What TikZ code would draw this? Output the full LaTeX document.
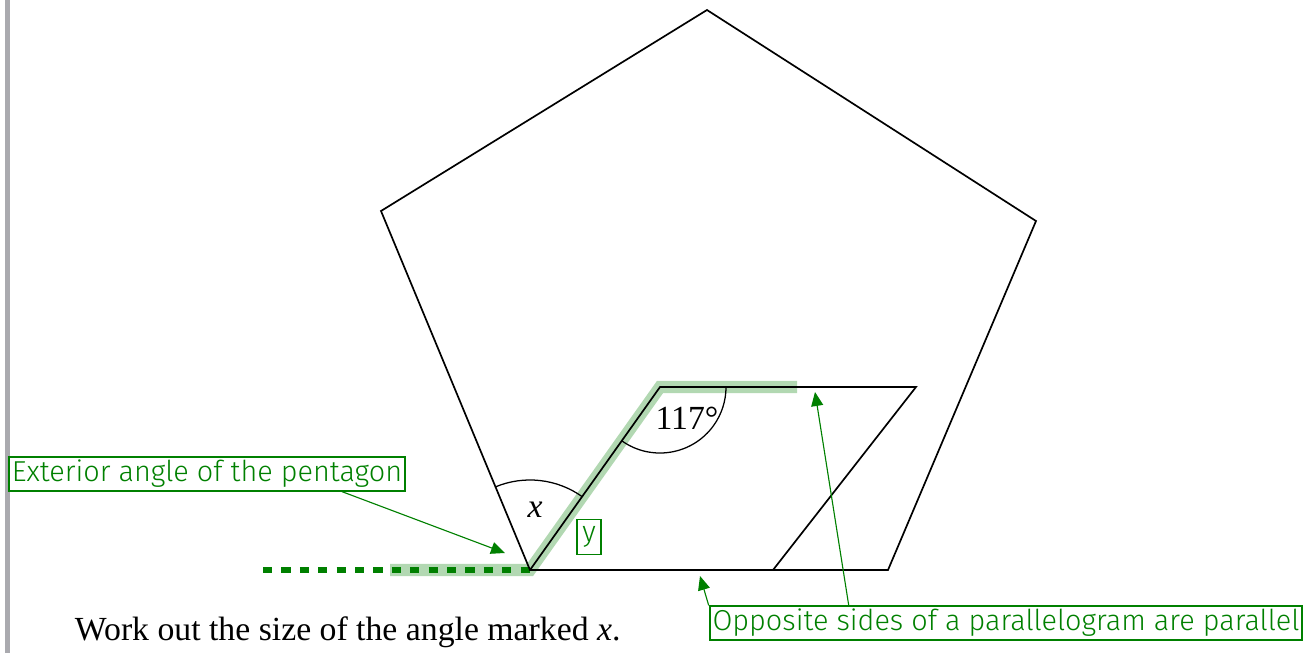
\documentclass[tikz,border=0pt]{standalone}
\usepackage{fontspec}
\setmainfont{Liberation Serif}
\newfontfamily\annfont{Fira Sans Light}
\usepackage{xcolor}
\usetikzlibrary{arrows.meta,angles,positioning}
\definecolor{anngreen}{RGB}{0,128,0}
\definecolor{hlgreen}{RGB}{178,216,178}
\definecolor{bargray}{RGB}{170,170,175}
\tikzset{
  figline/.style={
    line width=1.2pt,
    line join=miter
  },
  hilite/.style={
    line width=0.3cm,
    color=hlgreen,
    line join=miter
  },
  extline/.style={
    line width=0.13cm,
    color=anngreen,
    dash pattern=on 0.23cm off 0.23cm
  },
  annbox/.style={
    draw=anngreen,
    line width=1.4pt,
    text=anngreen,
    inner sep=2pt,
    font=\annfont\fontsize{20.5}{24}\selectfont
  },
  annarrow/.style={
    color=anngreen,
    line width=0.8pt,
    -{Triangle[length=0.35cm,width=0.3cm]}
  },
  anglab/.style={
    font=\fontsize{24}{28}\selectfont
  }
}
\begin{document}
\begin{tikzpicture}[x=0.025cm,y=0.025cm]
  \useasboundingbox (0,0) rectangle (1304,653);
  \fill[bargray] (5,0) rectangle (10,653);

  % pentagon
  \coordinate (P1) at (707,643);
  \coordinate (P2) at (381,442);
  \coordinate (P3) at (1036,432);
  \coordinate (P4) at (888,83);
  \coordinate (A) at (530,83);
  % parallelogram
  \coordinate (B) at (660,266);
  \coordinate (C) at (916,266);
  \coordinate (D) at (773,83);

  \draw[hilite] (390,83) -- (A) -- (B) -- (797,266);
  \draw[extline] (263,83) -- (A);

  \draw[figline] (P1) -- (P3) -- (P4) -- (A) -- (P2) -- cycle;
  \draw[figline] (A) -- (B) -- (C) -- (D);

  \pic[draw, line width=0.9pt, angle radius=2.25cm] {angle = B--A--P2};
  \pic[draw, line width=0.9pt, angle radius=1.65cm] {angle = A--B--C};

  \node[anglab] (xlab) at (535,143) {\textit{x}};
  \node[anglab] (deg) at (687,235) {117\textdegree};

  \node[annbox] (ext) at (207,179) {Exterior angle of the pentagon};
  \node[annbox, minimum height=0.875cm, minimum width=0.6cm] (ylab) at (589,116) {y};
  \node[annbox] (opp) at (1006,30) {Opposite sides of a parallelogram are parallel};

  \coordinate (tipA) at (505,100);
  \coordinate (tipB) at (815,261);
  \coordinate (tipC) at (700,77);
  \draw[annarrow] ([xshift=-1.6cm]ext.south east) -- (tipA);
  \draw[annarrow] ([xshift=3.5cm]opp.north west) -- (tipB);
  \draw[annarrow] (opp.north west) -- (tipC);

  \node[anchor=base west, font=\fontsize{24}{28}\selectfont] (task) at (70,13)
    {Work out the size of the angle marked \textit{x}.};
\end{tikzpicture}
\end{document}
